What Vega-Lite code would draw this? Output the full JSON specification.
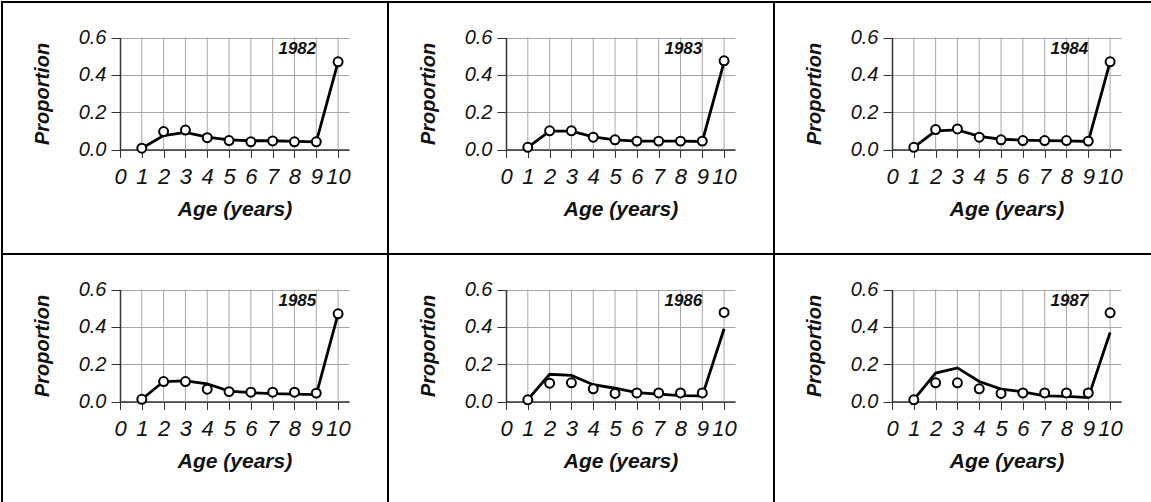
{
  "$schema": "https://vega.github.io/schema/vega-lite/v6.json",
  "padding": {"left": 1, "top": 1, "right": 0, "bottom": 0},
  "datasets": {"d": [
    {"year": "1982", "age": 1, "obs": 0.007, "fit": 0.007},
    {"year": "1982", "age": 2, "obs": 0.096, "fit": 0.075},
    {"year": "1982", "age": 3, "obs": 0.104, "fit": 0.092},
    {"year": "1982", "age": 4, "obs": 0.063, "fit": 0.066},
    {"year": "1982", "age": 5, "obs": 0.048, "fit": 0.052},
    {"year": "1982", "age": 6, "obs": 0.041, "fit": 0.047},
    {"year": "1982", "age": 7, "obs": 0.046, "fit": 0.047},
    {"year": "1982", "age": 8, "obs": 0.041, "fit": 0.044},
    {"year": "1982", "age": 9, "obs": 0.041, "fit": 0.041},
    {"year": "1982", "age": 10, "obs": 0.47, "fit": 0.47},
    {"year": "1983", "age": 1, "obs": 0.012, "fit": 0.012},
    {"year": "1983", "age": 2, "obs": 0.1, "fit": 0.098},
    {"year": "1983", "age": 3, "obs": 0.1, "fit": 0.098},
    {"year": "1983", "age": 4, "obs": 0.066, "fit": 0.068},
    {"year": "1983", "age": 5, "obs": 0.052, "fit": 0.052},
    {"year": "1983", "age": 6, "obs": 0.045, "fit": 0.045},
    {"year": "1983", "age": 7, "obs": 0.045, "fit": 0.045},
    {"year": "1983", "age": 8, "obs": 0.045, "fit": 0.045},
    {"year": "1983", "age": 9, "obs": 0.045, "fit": 0.043},
    {"year": "1983", "age": 10, "obs": 0.475, "fit": 0.47},
    {"year": "1984", "age": 1, "obs": 0.012, "fit": 0.012},
    {"year": "1984", "age": 2, "obs": 0.107, "fit": 0.1},
    {"year": "1984", "age": 3, "obs": 0.11, "fit": 0.105},
    {"year": "1984", "age": 4, "obs": 0.066, "fit": 0.07},
    {"year": "1984", "age": 5, "obs": 0.052, "fit": 0.055},
    {"year": "1984", "age": 6, "obs": 0.048, "fit": 0.05},
    {"year": "1984", "age": 7, "obs": 0.048, "fit": 0.048},
    {"year": "1984", "age": 8, "obs": 0.048, "fit": 0.046},
    {"year": "1984", "age": 9, "obs": 0.045, "fit": 0.043},
    {"year": "1984", "age": 10, "obs": 0.47, "fit": 0.47},
    {"year": "1985", "age": 1, "obs": 0.012, "fit": 0.012},
    {"year": "1985", "age": 2, "obs": 0.107, "fit": 0.107},
    {"year": "1985", "age": 3, "obs": 0.107, "fit": 0.11},
    {"year": "1985", "age": 4, "obs": 0.066, "fit": 0.095},
    {"year": "1985", "age": 5, "obs": 0.053, "fit": 0.056},
    {"year": "1985", "age": 6, "obs": 0.05, "fit": 0.047},
    {"year": "1985", "age": 7, "obs": 0.05, "fit": 0.042},
    {"year": "1985", "age": 8, "obs": 0.05, "fit": 0.04},
    {"year": "1985", "age": 9, "obs": 0.045, "fit": 0.037},
    {"year": "1985", "age": 10, "obs": 0.47, "fit": 0.47},
    {"year": "1986", "age": 1, "obs": 0.009, "fit": 0.01},
    {"year": "1986", "age": 2, "obs": 0.098, "fit": 0.146},
    {"year": "1986", "age": 3, "obs": 0.1, "fit": 0.14},
    {"year": "1986", "age": 4, "obs": 0.068, "fit": 0.09},
    {"year": "1986", "age": 5, "obs": 0.043, "fit": 0.071},
    {"year": "1986", "age": 6, "obs": 0.046, "fit": 0.048},
    {"year": "1986", "age": 7, "obs": 0.046, "fit": 0.04},
    {"year": "1986", "age": 8, "obs": 0.046, "fit": 0.032},
    {"year": "1986", "age": 9, "obs": 0.046, "fit": 0.03},
    {"year": "1986", "age": 10, "obs": 0.477, "fit": 0.39},
    {"year": "1987", "age": 1, "obs": 0.009, "fit": 0.01},
    {"year": "1987", "age": 2, "obs": 0.1, "fit": 0.152},
    {"year": "1987", "age": 3, "obs": 0.1, "fit": 0.18},
    {"year": "1987", "age": 4, "obs": 0.068, "fit": 0.107},
    {"year": "1987", "age": 5, "obs": 0.043, "fit": 0.066},
    {"year": "1987", "age": 6, "obs": 0.046, "fit": 0.052},
    {"year": "1987", "age": 7, "obs": 0.046, "fit": 0.03},
    {"year": "1987", "age": 8, "obs": 0.046, "fit": 0.027},
    {"year": "1987", "age": 9, "obs": 0.046, "fit": 0.021},
    {"year": "1987", "age": 10, "obs": 0.475, "fit": 0.37}
  ]},
  "data": {"name": "d"},
  "columns": 3,
  "spacing": 0,
  "bounds": "flush",
  "concat": [
    {
      "transform": [{"filter": "datum.year == '1982'"}],
      "width": 386, "height": 252,
      "encoding": {"x": {"field": "age", "type": "quantitative", "scale": {"domain": [0, 10.5], "range": [118, 347], "nice": false, "zero": false}, "axis": {"offset": -104.5, "values": [0, 1, 2, 3, 4, 5, 6, 7, 8, 9, 10], "format": "d", "title": "Age (years)"}}},
      "layer": [
        {"mark": "rule", "encoding": {"y": {"datum": 0, "type": "quantitative"}, "y2": {"datum": 0.6}}},
        {"mark": "line", "encoding": {"y": {"field": "fit", "type": "quantitative", "scale": {"domain": [0, 0.6], "range": [147.5, 35.5], "nice": false, "zero": false}, "axis": {"offset": -118, "values": [0, 0.2, 0.4, 0.6], "format": ".1f", "title": "Proportion"}}}},
        {"mark": "point", "encoding": {"y": {"field": "obs", "type": "quantitative"}}},
        {"transform": [{"filter": "datum.age == 10"}], "mark": "text", "encoding": {"x": {"datum": 9, "type": "quantitative"}, "y": {"datum": 0.536, "type": "quantitative"}, "text": {"field": "year", "type": "nominal"}}}
      ]
    },
    {
      "transform": [{"filter": "datum.year == '1983'"}],
      "width": 386, "height": 252,
      "encoding": {"x": {"field": "age", "type": "quantitative", "scale": {"domain": [0, 10.5], "range": [118, 347], "nice": false, "zero": false}, "axis": {"offset": -104.5, "values": [0, 1, 2, 3, 4, 5, 6, 7, 8, 9, 10], "format": "d", "title": "Age (years)"}}},
      "layer": [
        {"mark": "rule", "encoding": {"y": {"datum": 0, "type": "quantitative"}, "y2": {"datum": 0.6}}},
        {"mark": "line", "encoding": {"y": {"field": "fit", "type": "quantitative", "scale": {"domain": [0, 0.6], "range": [147.5, 35.5], "nice": false, "zero": false}, "axis": {"offset": -118, "values": [0, 0.2, 0.4, 0.6], "format": ".1f", "title": "Proportion"}}}},
        {"mark": "point", "encoding": {"y": {"field": "obs", "type": "quantitative"}}},
        {"transform": [{"filter": "datum.age == 10"}], "mark": "text", "encoding": {"x": {"datum": 9, "type": "quantitative"}, "y": {"datum": 0.536, "type": "quantitative"}, "text": {"field": "year", "type": "nominal"}}}
      ]
    },
    {
      "transform": [{"filter": "datum.year == '1984'"}],
      "width": 386, "height": 252,
      "encoding": {"x": {"field": "age", "type": "quantitative", "scale": {"domain": [0, 10.5], "range": [118, 347], "nice": false, "zero": false}, "axis": {"offset": -104.5, "values": [0, 1, 2, 3, 4, 5, 6, 7, 8, 9, 10], "format": "d", "title": "Age (years)"}}},
      "layer": [
        {"mark": "rule", "encoding": {"y": {"datum": 0, "type": "quantitative"}, "y2": {"datum": 0.6}}},
        {"mark": "line", "encoding": {"y": {"field": "fit", "type": "quantitative", "scale": {"domain": [0, 0.6], "range": [147.5, 35.5], "nice": false, "zero": false}, "axis": {"offset": -118, "values": [0, 0.2, 0.4, 0.6], "format": ".1f", "title": "Proportion"}}}},
        {"mark": "point", "encoding": {"y": {"field": "obs", "type": "quantitative"}}},
        {"transform": [{"filter": "datum.age == 10"}], "mark": "text", "encoding": {"x": {"datum": 9, "type": "quantitative"}, "y": {"datum": 0.536, "type": "quantitative"}, "text": {"field": "year", "type": "nominal"}}}
      ]
    },
    {
      "transform": [{"filter": "datum.year == '1985'"}],
      "width": 386, "height": 252,
      "encoding": {"x": {"field": "age", "type": "quantitative", "scale": {"domain": [0, 10.5], "range": [118, 347], "nice": false, "zero": false}, "axis": {"offset": -104.5, "values": [0, 1, 2, 3, 4, 5, 6, 7, 8, 9, 10], "format": "d", "title": "Age (years)"}}},
      "layer": [
        {"mark": "rule", "encoding": {"y": {"datum": 0, "type": "quantitative"}, "y2": {"datum": 0.6}}},
        {"mark": "line", "encoding": {"y": {"field": "fit", "type": "quantitative", "scale": {"domain": [0, 0.6], "range": [147.5, 35.5], "nice": false, "zero": false}, "axis": {"offset": -118, "values": [0, 0.2, 0.4, 0.6], "format": ".1f", "title": "Proportion"}}}},
        {"mark": "point", "encoding": {"y": {"field": "obs", "type": "quantitative"}}},
        {"transform": [{"filter": "datum.age == 10"}], "mark": "text", "encoding": {"x": {"datum": 9, "type": "quantitative"}, "y": {"datum": 0.536, "type": "quantitative"}, "text": {"field": "year", "type": "nominal"}}}
      ]
    },
    {
      "transform": [{"filter": "datum.year == '1986'"}],
      "width": 386, "height": 252,
      "encoding": {"x": {"field": "age", "type": "quantitative", "scale": {"domain": [0, 10.5], "range": [118, 347], "nice": false, "zero": false}, "axis": {"offset": -104.5, "values": [0, 1, 2, 3, 4, 5, 6, 7, 8, 9, 10], "format": "d", "title": "Age (years)"}}},
      "layer": [
        {"mark": "rule", "encoding": {"y": {"datum": 0, "type": "quantitative"}, "y2": {"datum": 0.6}}},
        {"mark": "line", "encoding": {"y": {"field": "fit", "type": "quantitative", "scale": {"domain": [0, 0.6], "range": [147.5, 35.5], "nice": false, "zero": false}, "axis": {"offset": -118, "values": [0, 0.2, 0.4, 0.6], "format": ".1f", "title": "Proportion"}}}},
        {"mark": "point", "encoding": {"y": {"field": "obs", "type": "quantitative"}}},
        {"transform": [{"filter": "datum.age == 10"}], "mark": "text", "encoding": {"x": {"datum": 9, "type": "quantitative"}, "y": {"datum": 0.536, "type": "quantitative"}, "text": {"field": "year", "type": "nominal"}}}
      ]
    },
    {
      "transform": [{"filter": "datum.year == '1987'"}],
      "width": 386, "height": 252,
      "encoding": {"x": {"field": "age", "type": "quantitative", "scale": {"domain": [0, 10.5], "range": [118, 347], "nice": false, "zero": false}, "axis": {"offset": -104.5, "values": [0, 1, 2, 3, 4, 5, 6, 7, 8, 9, 10], "format": "d", "title": "Age (years)"}}},
      "layer": [
        {"mark": "rule", "encoding": {"y": {"datum": 0, "type": "quantitative"}, "y2": {"datum": 0.6}}},
        {"mark": "line", "encoding": {"y": {"field": "fit", "type": "quantitative", "scale": {"domain": [0, 0.6], "range": [147.5, 35.5], "nice": false, "zero": false}, "axis": {"offset": -118, "values": [0, 0.2, 0.4, 0.6], "format": ".1f", "title": "Proportion"}}}},
        {"mark": "point", "encoding": {"y": {"field": "obs", "type": "quantitative"}}},
        {"transform": [{"filter": "datum.age == 10"}], "mark": "text", "encoding": {"x": {"datum": 9, "type": "quantitative"}, "y": {"datum": 0.536, "type": "quantitative"}, "text": {"field": "year", "type": "nominal"}}}
      ]
    }
  ],
  "config": {
    "view": {"stroke": "black", "strokeWidth": 2},
    "rule": {"color": "#a6a6a6", "strokeWidth": 1},
    "line": {"color": "black", "strokeWidth": 2.8},
    "point": {"shape": "circle", "filled": true, "fill": "white", "stroke": "black", "strokeWidth": 2, "size": 80, "opacity": 1},
    "text": {"align": "right", "baseline": "middle", "font": "Liberation Sans", "fontSize": 17, "fontStyle": "italic", "fontWeight": "bold", "color": "#111111"},
    "axisX": {
      "grid": false,
      "tickSize": 8, "tickColor": "#333333", "domainColor": "#333333", "domainWidth": 1.5,
      "labelPadding": 9, "labelFont": "Liberation Sans", "labelFontSize": 22, "labelFontStyle": "italic",
      "labelColor": "#111111", "labelOverlap": false, "labelFlush": false, "labelBound": false,
      "titleFont": "Liberation Sans", "titleFontSize": 21, "titleFontStyle": "italic", "titleFontWeight": "bold",
      "titleColor": "#111111", "titlePadding": 11
    },
    "axisY": {
      "grid": true, "gridColor": "#a6a6a6", "gridWidth": 1,
      "tickSize": 9, "tickColor": "#333333", "domainColor": "#333333", "domainWidth": 1.5,
      "labelPadding": 5, "labelFont": "Liberation Sans", "labelFontSize": 20, "labelFontStyle": "italic",
      "labelColor": "#111111", "labelOverlap": false, "labelFlush": false, "labelBound": false,
      "titleFont": "Liberation Sans", "titleFontSize": 20, "titleFontStyle": "italic", "titleFontWeight": "bold",
      "titleColor": "#111111", "titlePadding": 26
    }
  }
}
